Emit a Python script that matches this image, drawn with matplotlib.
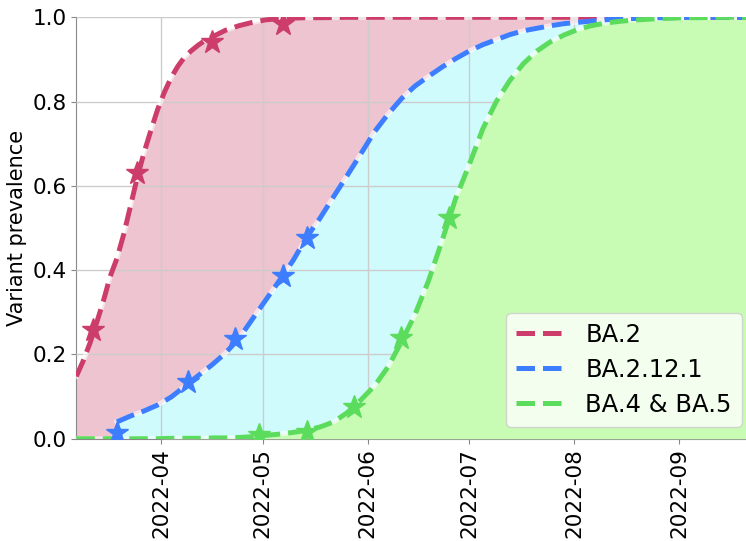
import numpy as np
import matplotlib
matplotlib.use('Agg')
import matplotlib.pyplot as plt
import matplotlib.dates as mdates

# curve values, days counted from 2022-03-07
start = np.datetime64('2022-03-07')

ba2_days = [0, 2, 4, 6, 8, 10, 12, 14, 16, 18, 20, 22, 24, 26, 28, 30, 32, 34, 36, 38, 40,
            44, 48, 52, 56, 60, 64, 68, 72, 80, 200]
ba2_fit = [0.148, 0.184, 0.226, 0.275, 0.327, 0.385, 0.428, 0.485, 0.552, 0.620, 0.679,
           0.731, 0.781, 0.822, 0.857, 0.884, 0.906, 0.921, 0.934, 0.945, 0.953,
           0.969, 0.980, 0.988, 0.994, 0.997, 0.998, 0.999, 0.999, 1.0, 1.0]

ba2121_days = [12, 16, 20, 24, 28, 32, 36, 40, 44, 48, 52, 56, 60, 64, 68, 72, 76, 80, 84,
               88, 92, 96, 100, 104, 108, 112, 116, 120, 124, 128, 132, 136, 140, 144,
               148, 152, 156, 160, 164, 168, 172, 176, 180, 200]
ba2121_fit = [0.040, 0.054, 0.066, 0.080, 0.099, 0.124, 0.150, 0.175, 0.203, 0.238,
              0.284, 0.330, 0.376, 0.423, 0.478, 0.524, 0.575, 0.625, 0.676, 0.728,
              0.770, 0.807, 0.837, 0.860, 0.882, 0.902, 0.920, 0.935, 0.947, 0.959,
              0.968, 0.974, 0.980, 0.985, 0.988, 0.991, 0.994, 0.996, 0.997, 0.998,
              0.999, 0.999, 1.0, 1.0]

ba45_days = [0, 24, 28, 32, 36, 40, 44, 48, 52, 56, 60, 64, 68, 72, 76, 80, 84, 88, 92,
             96, 100, 104, 108, 112, 116, 120, 124, 128, 132, 136, 140, 144, 148, 152,
             156, 160, 164, 168, 172, 176, 180, 184, 188, 200]
ba45_fit = [0.0, 0.0, 0.001, 0.001, 0.001, 0.002, 0.002, 0.003, 0.005, 0.008,
            0.011, 0.015, 0.020, 0.028, 0.040, 0.062, 0.092, 0.125, 0.170, 0.230,
            0.295, 0.375, 0.470, 0.570, 0.650, 0.735, 0.800, 0.850, 0.890, 0.920,
            0.942, 0.958, 0.971, 0.980, 0.986, 0.990, 0.993, 0.995, 0.997, 0.998,
            0.999, 0.999, 1.0, 1.0]

# observed points (stars)
ba2_dates = ['2022-03-12', '2022-03-25', '2022-04-16', '2022-05-07']
ba2_obs = [0.257, 0.630, 0.942, 0.984]
ba2121_dates = ['2022-03-19', '2022-04-09', '2022-04-23', '2022-05-07', '2022-05-14']
ba2121_obs = [0.013, 0.135, 0.236, 0.385, 0.476]
ba45_dates = ['2022-04-30', '2022-05-14', '2022-05-28', '2022-06-11', '2022-06-25']
ba45_obs = [0.008, 0.017, 0.076, 0.238, 0.523]

labels = ['BA.2', 'BA.2.12.1', 'BA.4 & BA.5']
line_colors = ['#cc3d6b', '#3d7dff', '#5cdc5c']
fill_colors = ['#eec4d0', '#cffbfd', '#c8fcb4']

fig = plt.figure(figsize=(7.46, 5.41), dpi=100)
ax = fig.add_axes([0.1023, 0.189, 0.908, 0.779])

fits = [(ba2_days, ba2_fit), (ba2121_days, ba2121_fit), (ba45_days, ba45_fit)]
obs = [(ba2_dates, ba2_obs), (ba2121_dates, ba2121_obs), (ba45_dates, ba45_obs)]

for i in range(3):
    d, y = fits[i]
    x = start + np.array(d).astype('timedelta64[D]')
    ax.fill_between(x, 0, y, color=fill_colors[i], lw=0, zorder=1 + i)

for i in range(3):
    d, y = fits[i]
    x = start + np.array(d).astype('timedelta64[D]')
    ax.plot(x, y, color='white', lw=3.6, alpha=0.55, zorder=5)
    ax.plot(x, y, color=line_colors[i], lw=3.6, ls='--', label=labels[i], zorder=6)
    od, v = obs[i]
    ax.plot(np.array(od, dtype='datetime64[D]'), v, ls='none', marker='*',
            ms=17, color=line_colors[i], zorder=7)

ax.set_xlim(start, start + np.timedelta64(200, 'D'))
ax.set_ylim(0, 1)
ax.xaxis.set_major_locator(mdates.MonthLocator())
ax.xaxis.set_major_formatter(mdates.DateFormatter('%Y-%m'))
plt.setp(ax.get_xticklabels(), rotation=90)
ax.tick_params(labelsize=15.5, color='#888888')
ax.set_ylabel('Variant prevalence', fontsize=15)
ax.grid(True, color='#cccccc', lw=1, zorder=4)
ax.set_axisbelow(False)
for s in ['top', 'right']:
    ax.spines[s].set_visible(False)
for s in ['left', 'bottom']:
    ax.spines[s].set_color('#888888')

ax.legend(loc='lower right', fontsize=17.5, framealpha=0.8, handlelength=2.0,
          handletextpad=0.85, labelspacing=0.45)

fig.savefig('out.png', dpi=100)
